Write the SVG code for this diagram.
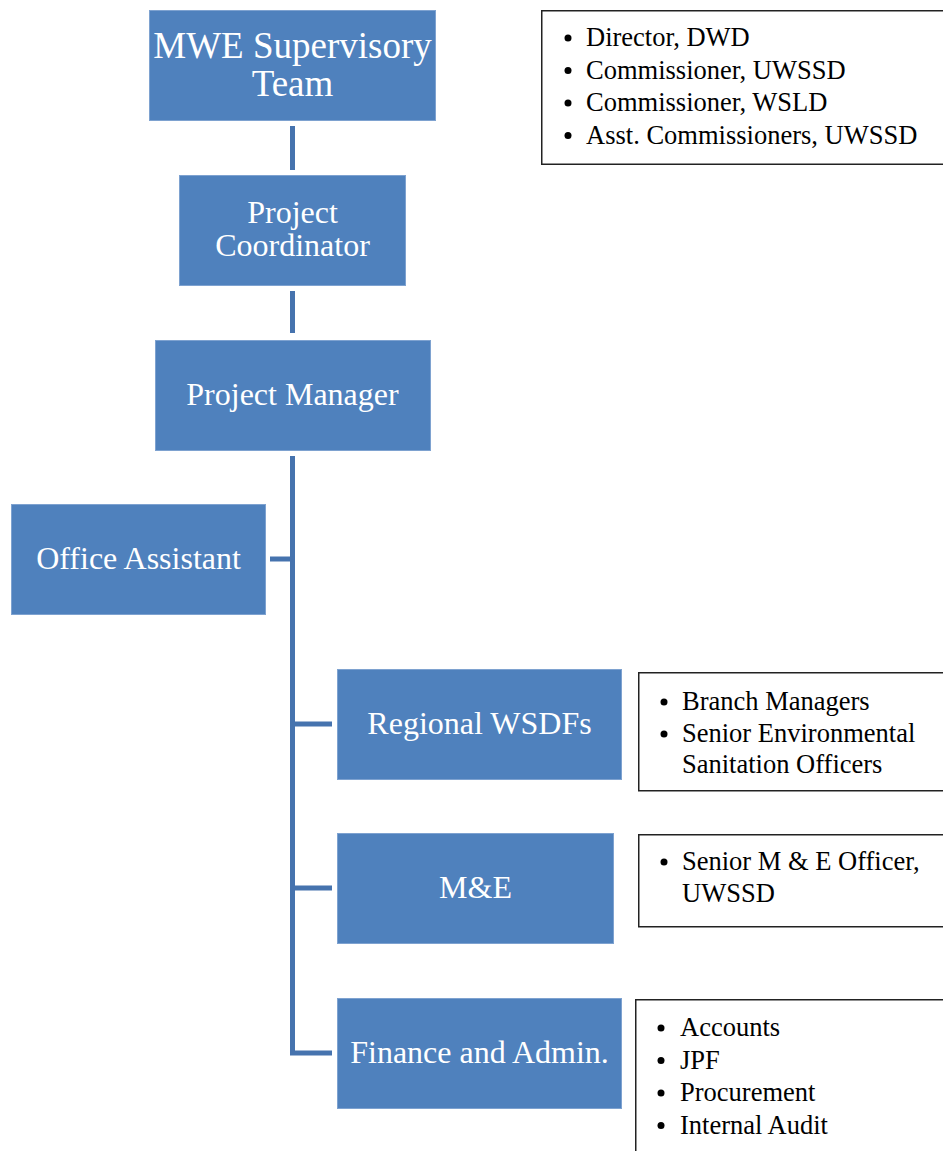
<svg xmlns="http://www.w3.org/2000/svg" width="943" height="1151" viewBox="0 0 943 1151">
<style>
.node{fill:#4F81BD;stroke:#7EA2D0;stroke-width:1}
.nt{font-family:"Liberation Serif","Times New Roman",serif;fill:#ffffff;text-anchor:middle;font-size:32px}
.note{fill:#ffffff;stroke:#222222;stroke-width:1.5}
.bt{font-family:"Liberation Serif","Times New Roman",serif;fill:#000000;font-size:26.5px}
.conn{stroke:#4673AE;stroke-width:5;fill:none}
</style>
<rect width="943" height="1151" fill="#ffffff"/>
<g id="connectors">
<line class="conn" x1="292.5" y1="126" x2="292.5" y2="170"/>
<line class="conn" x1="292.5" y1="291" x2="292.5" y2="333"/>
<polyline class="conn" points="292.5,456 292.5,1053 332,1053"/>
<line class="conn" x1="270" y1="559" x2="292.5" y2="559"/>
<line class="conn" x1="292.5" y1="724" x2="332" y2="724"/>
<line class="conn" x1="292.5" y1="888" x2="332" y2="888"/>
</g>
<g id="mwe">
<rect class="node" x="149.5" y="10.5" width="286" height="110"/>
<text class="nt" x="292.5" y="58" style="font-size:37px">MWE Supervisory</text>
<text class="nt" x="292.5" y="96" style="font-size:37px">Team</text>
</g>
<g id="coordinator">
<rect class="node" x="179.5" y="175.5" width="226" height="110"/>
<text class="nt" x="292.5" y="223">Project</text>
<text class="nt" x="292.5" y="256">Coordinator</text>
</g>
<g id="manager">
<rect class="node" x="155.5" y="340.5" width="275" height="110"/>
<text class="nt" x="292.5" y="405">Project Manager</text>
</g>
<g id="office">
<rect class="node" x="11.5" y="504.5" width="254" height="110"/>
<text class="nt" x="138.5" y="569">Office Assistant</text>
</g>
<g id="wsdf">
<rect class="node" x="337.5" y="669.5" width="284" height="110"/>
<text class="nt" x="479.5" y="734">Regional WSDFs</text>
</g>
<g id="me">
<rect class="node" x="337.5" y="833.5" width="276" height="110"/>
<text class="nt" x="475.5" y="898">M&amp;E</text>
</g>
<g id="finance">
<rect class="node" x="337.5" y="998.5" width="284" height="110"/>
<text class="nt" x="479.5" y="1063">Finance and Admin.</text>
</g>
<g id="note-mwe">
<rect class="note" x="541.75" y="10.75" width="410" height="153.5"/>
<g class="bt">
<circle cx="568" cy="38" r="3.5"/><text x="586" y="46">Director, DWD</text>
<circle cx="568" cy="70.5" r="3.5"/><text x="586" y="78.5">Commissioner, UWSSD</text>
<circle cx="568" cy="103" r="3.5"/><text x="586" y="111">Commissioner, WSLD</text>
<circle cx="568" cy="135.5" r="3.5"/><text x="586" y="143.5">Asst. Commissioners, UWSSD</text>
</g>
</g>
<g id="note-wsdf">
<rect class="note" x="638.75" y="672.75" width="310" height="118"/>
<g class="bt">
<circle cx="664" cy="702" r="3.5"/><text x="682" y="710">Branch Managers</text>
<circle cx="664" cy="734" r="3.5"/><text x="682" y="742">Senior Environmental</text>
<text x="682" y="773">Sanitation Officers</text>
</g>
</g>
<g id="note-me">
<rect class="note" x="638.75" y="834.75" width="310" height="92"/>
<g class="bt">
<circle cx="664" cy="862" r="3.5"/><text x="682" y="870">Senior M &amp; E Officer,</text>
<text x="682" y="902">UWSSD</text>
</g>
</g>
<g id="note-finance">
<rect class="note" x="635.75" y="999.75" width="315" height="160"/>
<g class="bt">
<circle cx="661" cy="1028" r="3.5"/><text x="680" y="1036">Accounts</text>
<circle cx="661" cy="1060.5" r="3.5"/><text x="680" y="1068.5">JPF</text>
<circle cx="661" cy="1093" r="3.5"/><text x="680" y="1101">Procurement</text>
<circle cx="661" cy="1125.5" r="3.5"/><text x="680" y="1133.5">Internal Audit</text>
</g>
</g>
</svg>
